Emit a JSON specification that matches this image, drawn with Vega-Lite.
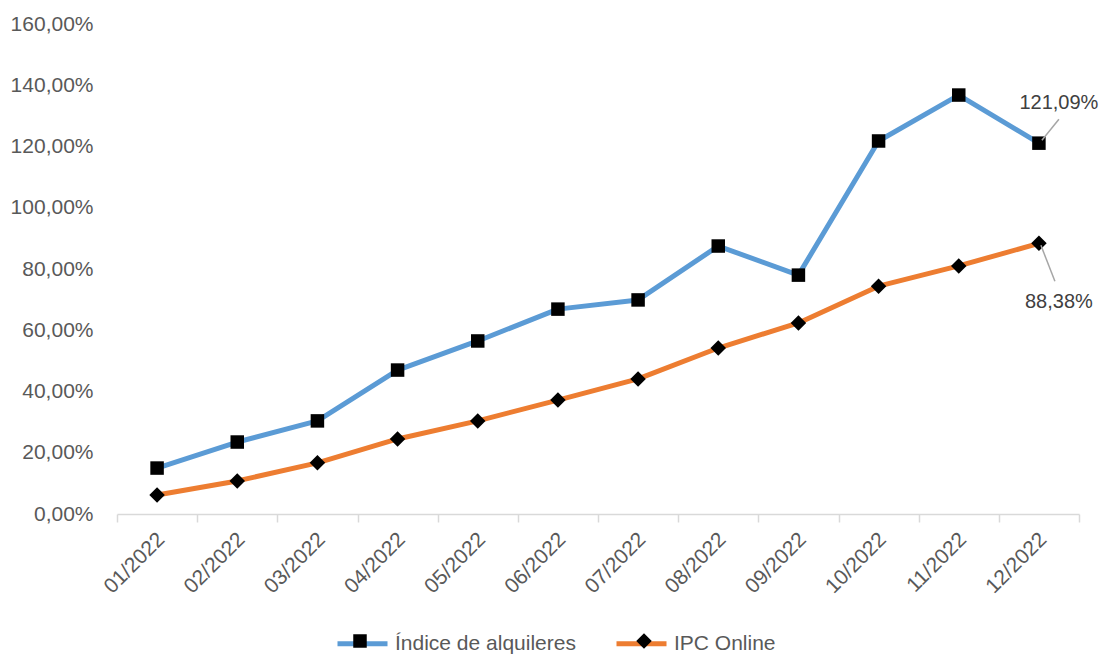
{
  "$schema": "https://vega.github.io/schema/vega-lite/v6.json",
  "width": 962,
  "height": 490,
  "autosize": "none",
  "padding": {"left": 117, "top": 24, "right": 24, "bottom": 141},
  "background": "white",
  "config": {
    "view": {"stroke": null},
    "font": "Liberation Sans",
    "axis": {"labelFont": "Liberation Sans", "labelFontSize": 21, "labelColor": "#595959", "grid": false},
    "legend": {"padding": 0}
  },
  "datasets": {
    "series": [
      {"mes": "01/2022", "serie": "Índice de alquileres", "valor": 15.0},
      {"mes": "02/2022", "serie": "Índice de alquileres", "valor": 23.5},
      {"mes": "03/2022", "serie": "Índice de alquileres", "valor": 30.4},
      {"mes": "04/2022", "serie": "Índice de alquileres", "valor": 47.0},
      {"mes": "05/2022", "serie": "Índice de alquileres", "valor": 56.5},
      {"mes": "06/2022", "serie": "Índice de alquileres", "valor": 66.9},
      {"mes": "07/2022", "serie": "Índice de alquileres", "valor": 69.9},
      {"mes": "08/2022", "serie": "Índice de alquileres", "valor": 87.5},
      {"mes": "09/2022", "serie": "Índice de alquileres", "valor": 78.0},
      {"mes": "10/2022", "serie": "Índice de alquileres", "valor": 121.8},
      {"mes": "11/2022", "serie": "Índice de alquileres", "valor": 136.8},
      {"mes": "12/2022", "serie": "Índice de alquileres", "valor": 121.09},
      {"mes": "01/2022", "serie": "IPC Online", "valor": 6.2},
      {"mes": "02/2022", "serie": "IPC Online", "valor": 10.8},
      {"mes": "03/2022", "serie": "IPC Online", "valor": 16.7},
      {"mes": "04/2022", "serie": "IPC Online", "valor": 24.5},
      {"mes": "05/2022", "serie": "IPC Online", "valor": 30.4},
      {"mes": "06/2022", "serie": "IPC Online", "valor": 37.2},
      {"mes": "07/2022", "serie": "IPC Online", "valor": 44.1},
      {"mes": "08/2022", "serie": "IPC Online", "valor": 54.2},
      {"mes": "09/2022", "serie": "IPC Online", "valor": 62.4},
      {"mes": "10/2022", "serie": "IPC Online", "valor": 74.4},
      {"mes": "11/2022", "serie": "IPC Online", "valor": 81.0},
      {"mes": "12/2022", "serie": "IPC Online", "valor": 88.38}
    ],
    "notas": [
      {"mes": "12/2022", "serie": "Índice de alquileres", "valor": 121.09, "etiqueta": "121,09%"},
      {"mes": "12/2022", "serie": "IPC Online", "valor": 88.38, "etiqueta": "88,38%"}
    ]
  },
  "encoding": {
    "x": {
      "field": "mes", "type": "ordinal", "sort": null,
      "scale": {"paddingInner": 0, "paddingOuter": 0},
      "axis": {
        "title": null, "labelAngle": -45, "labelAlign": "right", "labelBaseline": "middle",
        "labelPadding": 14, "labelOffset": 4,
        "domainColor": "#d9d9d9", "domainWidth": 1.5, "tickColor": "#d9d9d9", "tickWidth": 1.5,
        "tickSize": 8, "tickBand": "extent"
      }
    },
    "y": {
      "field": "valor", "type": "quantitative",
      "scale": {"domain": [0, 160], "nice": false},
      "axis": {
        "title": null, "values": [0, 20, 40, 60, 80, 100, 120, 140, 160],
        "labelExpr": "replace(format(datum.value, '.2f'), '.', ',') + '%'",
        "domain": false, "ticks": false, "labelPadding": 24
      }
    }
  },
  "layer": [
    {
      "data": {"name": "series"},
      "mark": {"type": "line", "strokeWidth": 5, "strokeJoin": "round", "strokeCap": "round"},
      "encoding": {
        "color": {
          "field": "serie", "type": "nominal",
          "scale": {"domain": ["Índice de alquileres", "IPC Online"], "range": ["#5b9bd5", "#ed7d31"]},
          "legend": {
            "orient": "none", "legendX": 218, "legendY": 592, "direction": "horizontal", "title": null,
            "symbolType": "stroke", "symbolSize": 2500, "symbolStrokeWidth": 5,
            "labelFont": "Liberation Sans", "labelFontSize": 21, "labelColor": "#595959", "labelLimit": 600,
            "labelOffset": 5, "columnPadding": 30
          }
        }
      }
    },
    {
      "data": {"name": "series"},
      "mark": {"type": "point", "filled": true, "color": "black", "opacity": 1, "size": 2500, "strokeWidth": 0},
      "encoding": {
        "shape": {
          "field": "serie", "type": "nominal", "sort": "descending",
          "scale": {"range": ["M-0.27,-0.27H0.27V0.27H-0.27Z", "M0,-0.31L0.31,0L0,0.31L-0.31,0Z"]},
          "legend": {
            "orient": "none", "legendX": 218, "legendY": 592, "direction": "horizontal", "title": null,
            "symbolSize": 2500, "symbolFillColor": "black", "symbolStrokeWidth": 0, "symbolOpacity": 1,
            "labelExpr": "''", "labelFontSize": 21,
            "labelOffset": 5, "columnPadding": 229
          }
        }
      }
    },
    {
      "data": {"name": "notas"},
      "transform": [{"filter": "datum.serie === 'Índice de alquileres'"}],
      "mark": {"type": "rule", "color": "#a6a6a6", "strokeWidth": 1.5, "xOffset": 3, "x2Offset": 20, "yOffset": -3, "y2Offset": -24},
      "encoding": {"x2": {"field": "mes"}, "y2": {"field": "valor"}}
    },
    {
      "data": {"name": "notas"},
      "transform": [{"filter": "datum.serie === 'IPC Online'"}],
      "mark": {"type": "rule", "color": "#a6a6a6", "strokeWidth": 1.5, "xOffset": 2, "x2Offset": 16, "yOffset": 2, "y2Offset": 38},
      "encoding": {"x2": {"field": "mes"}, "y2": {"field": "valor"}}
    },
    {
      "data": {"name": "notas"},
      "transform": [{"filter": "datum.serie === 'Índice de alquileres'"}],
      "mark": {"type": "text", "font": "Liberation Sans", "fontSize": 20, "color": "#404040", "align": "center", "baseline": "middle", "dx": 20, "dy": -40},
      "encoding": {"text": {"field": "etiqueta"}}
    },
    {
      "data": {"name": "notas"},
      "transform": [{"filter": "datum.serie === 'IPC Online'"}],
      "mark": {"type": "text", "font": "Liberation Sans", "fontSize": 20, "color": "#404040", "align": "center", "baseline": "middle", "dx": 20, "dy": 59},
      "encoding": {"text": {"field": "etiqueta"}}
    }
  ]
}
